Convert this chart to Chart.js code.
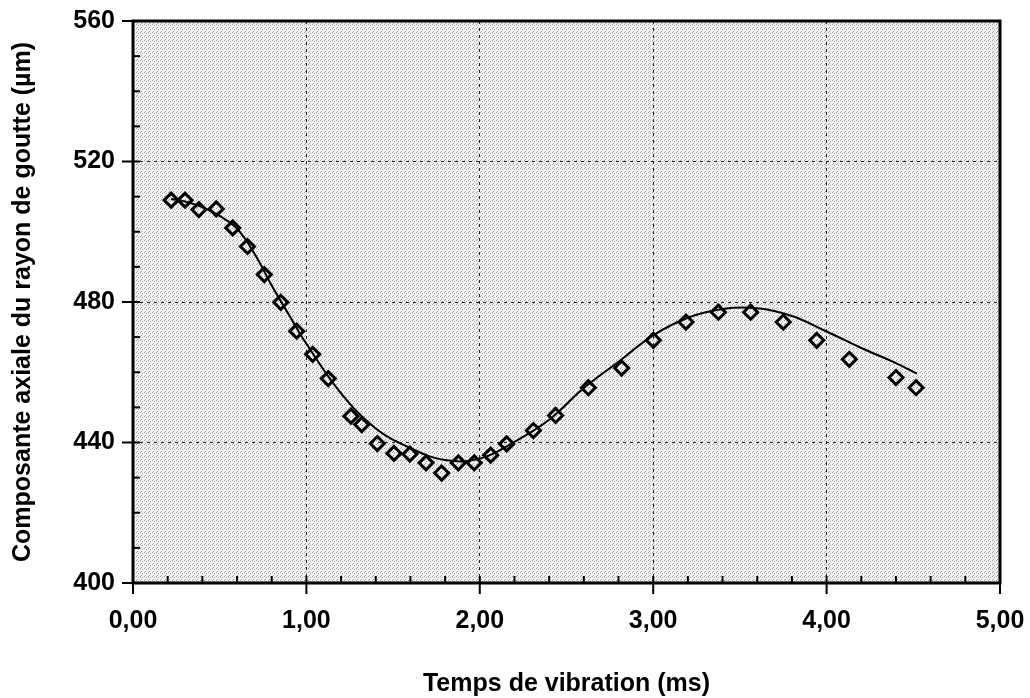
<!DOCTYPE html>
<html>
<head>
<meta charset="utf-8">
<script src="https://cdn.jsdelivr.net/npm/chart.js@4.4.0/dist/chart.umd.min.js"></script>
<style>
  body { margin: 0; background: #fff; }
  #wrap { width: 1030px; height: 698px; }
</style>
</head>
<body>
<div id="wrap"><canvas id="myChart" width="1030" height="698"></canvas></div>
<script>
// measured points (time in ms, radius in um)
var mesT = [0.22, 0.30, 0.38, 0.48, 0.575, 0.66, 0.757, 0.852, 0.944, 1.036, 1.126, 1.257, 1.319, 1.409, 1.505, 1.597, 1.690, 1.780, 1.876, 1.968, 2.063, 2.155, 2.309, 2.437, 2.626, 2.818, 3.001, 3.189, 3.376, 3.562, 3.750, 3.943, 4.131, 4.400, 4.516]
var mesR = [509.0, 509.0, 506.3, 506.5, 501.1, 495.8, 487.8, 479.9, 471.7, 465.1, 458.2, 447.5, 445.1, 439.7, 436.9, 436.7, 434.2, 431.3, 434.2, 434.2, 436.4, 439.6, 443.4, 447.7, 455.6, 461.2, 469.1, 474.3, 477.1, 477.1, 474.3, 469.1, 463.7, 458.5, 455.6]

// fitted curve
var fitT = [0.22, 0.30, 0.40, 0.50, 0.60, 0.70, 0.80, 0.90, 1.00, 1.20, 1.40, 1.60, 1.80, 2.00, 2.20, 2.40, 2.60, 2.80, 3.00, 3.20, 3.40, 3.60, 3.80, 4.00, 4.20, 4.40, 4.52]
var fitR = [509.3, 508.6, 507.0, 504.5, 500.9, 493.8, 484.7, 476.3, 468.1, 454.0, 444.0, 438.4, 435.0, 435.4, 440.2, 446.5, 455.5, 463.0, 470.5, 475.5, 478.0, 478.2, 476.0, 471.6, 466.9, 462.6, 459.6]

var xTickLabels = ['0,00', '1,00', '2,00', '3,00', '4,00', '5,00']
var yTickLabels = ['400', '440', '480', '520', '560']

var mesData = []
for (var i = 0; i < mesT.length; i++) mesData.push({x: mesT[i], y: mesR[i]})
var fitData = []
for (var i = 0; i < fitT.length; i++) fitData.push({x: fitT[i], y: fitR[i]})

function isMajor(v, step) {
  var q = v / step
  return Math.abs(q - Math.round(q)) < 1e-6
}

// halftone-ish background
var tile = document.createElement('canvas')
tile.width = 4; tile.height = 4
var tctx = tile.getContext('2d')
tctx.fillStyle = '#f2f2f2'
tctx.fillRect(0, 0, 4, 4)
tctx.fillStyle = '#a0a0a0'
tctx.fillRect(0, 0, 1, 1); tctx.fillRect(2, 1, 1, 1); tctx.fillRect(1, 3, 1, 1)

var framePlugin = {
  id: 'frame',
  beforeDraw: function (chart) {
    var a = chart.chartArea, ctx = chart.ctx
    ctx.save()
    ctx.fillStyle = ctx.createPattern(tile, 'repeat')
    ctx.fillRect(a.left, a.top, a.right - a.left, a.bottom - a.top)
    ctx.restore()
  },
  afterDraw: function (chart) {
    var a = chart.chartArea, ctx = chart.ctx
    var xs = chart.scales.x, ys = chart.scales.y
    ctx.save()
    ctx.strokeStyle = '#000'
    ctx.lineWidth = 2
    xs.ticks.forEach(function (t) {
      var px = xs.getPixelForValue(t.value)
      ctx.beginPath()
      if (isMajor(t.value, 1)) { ctx.moveTo(px, a.bottom - 7); ctx.lineTo(px, a.bottom + 11) }
      else { ctx.moveTo(px, a.bottom); ctx.lineTo(px, a.bottom - 7) }
      ctx.stroke()
    })
    ys.ticks.forEach(function (t) {
      var py = ys.getPixelForValue(t.value)
      ctx.beginPath()
      if (isMajor(t.value, 40)) { ctx.moveTo(a.left - 11, py); ctx.lineTo(a.left + 7, py) }
      else { ctx.moveTo(a.left, py); ctx.lineTo(a.left + 7, py) }
      ctx.stroke()
    })
    ctx.lineWidth = 3
    ctx.strokeRect(a.left, a.top, a.right - a.left, a.bottom - a.top)
    ctx.restore()
  }
}

const ctx = document.getElementById('myChart').getContext('2d')
const myChart = new Chart(ctx, {
  type: 'scatter',
  data: {
    datasets: [{
      label: 'ajustement',
      data: fitData,
      showLine: true,
      borderColor: '#000',
      borderWidth: 2,
      pointRadius: 0,
      tension: 0.4,
      order: 2
    }, {
      label: 'mesures',
      data: mesData,
      pointStyle: 'rectRot',
      pointRadius: 7,
      pointBorderWidth: 3,
      pointBorderColor: '#000',
      pointBackgroundColor: 'rgba(0,0,0,0)',
      order: 1
    }]
  },
  options: {
    responsive: false,
    animation: false,
    layout: { padding: { left: 0, right: 30, top: 21, bottom: 0 } },
    plugins: { legend: { display: false }, tooltip: { enabled: false } },
    scales: {
      x: {
        type: 'linear', min: 0, max: 5,
        afterFit: function (s) { s.height = 115; s.paddingLeft = 0; s.paddingRight = 0 },
        ticks: {
          stepSize: 0.2, autoSkip: false, maxRotation: 0, padding: 23, color: '#000',
          font: { family: 'Liberation Sans, Arial, sans-serif', size: 25, weight: 'bold' },
          callback: function (v) { return isMajor(v, 1) ? xTickLabels[Math.round(v)] : '' }
        },
        grid: {
          drawTicks: false, lineWidth: 1,
          color: function (c) { return (c.tick && isMajor(c.tick.value, 1)) ? '#222' : 'rgba(0,0,0,0)' }
        },
        border: { display: false, dash: [3, 4] },
        title: {
          display: true, text: 'Temps de vibration (ms)', color: '#000',
          font: { family: 'Liberation Sans, Arial, sans-serif', size: 25, weight: 'bold', lineHeight: 1 },
          padding: { top: 0, bottom: 1 }
        }
      },
      y: {
        type: 'linear', min: 400, max: 560,
        afterFit: function (s) { s.width = 133; s.paddingTop = 0; s.paddingBottom = 0 },
        ticks: {
          stepSize: 10, autoSkip: false, padding: 18, color: '#000',
          font: { family: 'Liberation Sans, Arial, sans-serif', size: 25, weight: 'bold' },
          callback: function (v) { return isMajor(v, 40) ? yTickLabels[Math.round((v - 400) / 40)] : '' }
        },
        grid: {
          drawTicks: false, lineWidth: 1,
          color: function (c) { return (c.tick && isMajor(c.tick.value, 40)) ? '#222' : 'rgba(0,0,0,0)' }
        },
        border: { display: false, dash: [3, 4] },
        title: {
          display: true, text: 'Composante axiale du rayon de goutte (\u00b5m)', color: '#000',
          font: { family: 'Liberation Sans, Arial, sans-serif', size: 25, weight: 'bold', lineHeight: 1.2 },
          padding: { top: 8, bottom: 0 }
        }
      }
    }
  },
  plugins: [framePlugin]
})
</script>
</body>
</html>
